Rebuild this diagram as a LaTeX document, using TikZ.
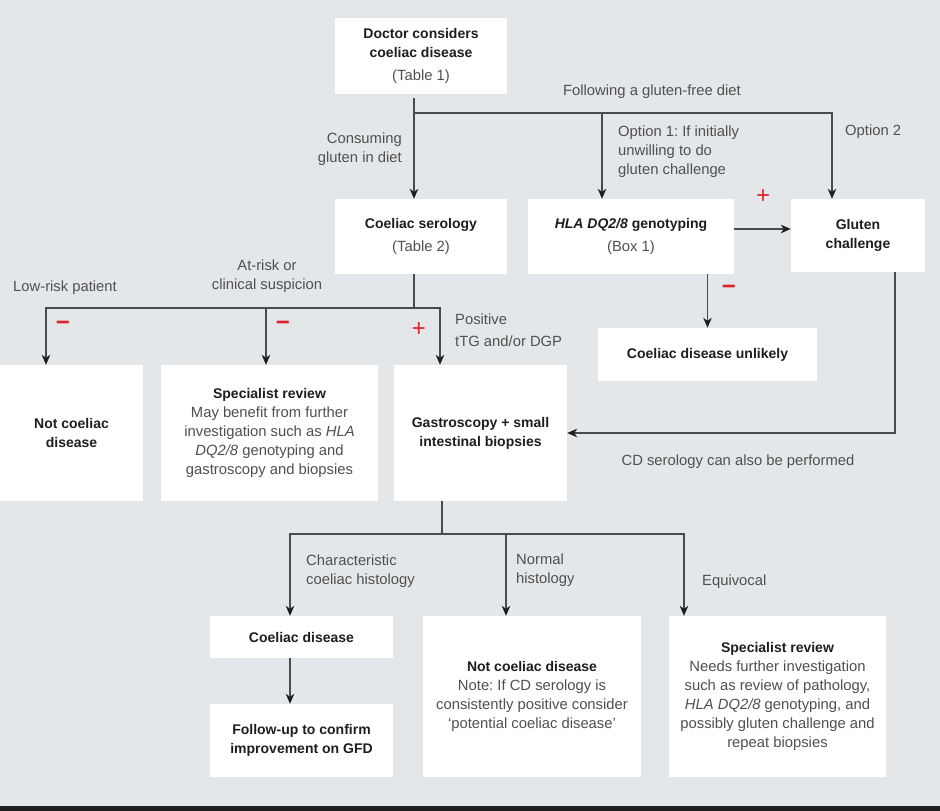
\documentclass[tikz,border=0pt]{standalone}
\usepackage{fontspec}
\setmainfont{Liberation Sans}
\usetikzlibrary{arrows.meta,calc}
\definecolor{bg}{HTML}{E4E7EA}
\definecolor{ink}{HTML}{1E1E1E}
\definecolor{lab}{HTML}{505050}
\definecolor{linec}{HTML}{4A4A4A}
\definecolor{sgn}{HTML}{E0202A}
\definecolor{darkstrip}{HTML}{1F1F1F}
\newcommand{\rg}[1]{{\color{lab}\fontsize{14.8}{19}\selectfont #1}}
\begin{document}
\frenchspacing
\begin{tikzpicture}[x=1pt,y=-1pt,
  box/.style={fill=white, inner sep=0pt, align=center, text=ink, font=\fontsize{14}{19}\selectfont\bfseries},
  lbl/.style={inner sep=0pt, text=lab, font=\fontsize{14.8}{19}\selectfont},
  sign/.style={inner sep=0pt, text=sgn, font=\fontsize{24}{24}\selectfont},
  conn/.style={draw=linec, line width=1.3pt},
  arr/.style={conn, -{Stealth[length=10pt,width=8.5pt,inset=3pt,color=ink]}}]
\useasboundingbox (0,0) rectangle (940,811);
\fill[bg] (0,0) rectangle (940,811);
\fill[darkstrip] (0,806) rectangle (940,811);

% boxes
\node[box, minimum width=172pt, minimum height=76pt] (doc) at (421,56)
  {Doctor considers\\coeliac disease\\[4pt]\mdseries\rg{(Table 1)}};
\node[box, minimum width=172pt, minimum height=75pt] (ser) at (421,236.5)
  {Coeliac serology\\[4pt]\mdseries\rg{(Table 2)}};
\node[box, minimum width=206pt, minimum height=75pt] (hla) at (631,236.5)
  {\textit{HLA DQ2/8} genotyping\\[4pt]\mdseries\rg{(Box 1)}};
\node[box, minimum width=134pt, minimum height=73pt] (gc) at (858,235.5)
  {Gluten\\challenge};
\node[box, minimum width=219pt, minimum height=53pt] (cdu) at (707.5,354.5)
  {Coeliac disease unlikely};
\node[box, minimum width=143pt, minimum height=136pt] (ncd1) at (71.5,433)
  {Not coeliac\\disease};
\node[box, minimum width=217pt, minimum height=136pt] (spec1) at (269.5,433)
  {Specialist review\\\mdseries\rg{May benefit from further}\\\mdseries\rg{investigation such as \textit{HLA}}\\\mdseries\rg{\textit{DQ2/8} genotyping and}\\\mdseries\rg{gastroscopy and biopsies}};
\node[box, minimum width=173pt, minimum height=136pt] (gastro) at (480.5,433)
  {Gastroscopy + small\\intestinal biopsies};
\node[box, minimum width=183pt, minimum height=42pt] (cd) at (301.5,637)
  {Coeliac disease};
\node[box, minimum width=183pt, minimum height=73pt] (fu) at (301.5,740.5)
  {Follow-up to confirm\\improvement on GFD};
\node[box, minimum width=218pt, minimum height=161pt] (ncd2) at (532,696.5)
  {Not coeliac disease\\\mdseries\rg{Note: If CD serology is}\\\mdseries\rg{consistently positive consider}\\\mdseries\rg{‘potential coeliac disease’}};
\node[box, minimum width=217pt, minimum height=161pt] (spec2) at (777.5,696.5)
  {Specialist review\\\mdseries\rg{Needs further investigation}\\\mdseries\rg{such as review of pathology,}\\\mdseries\rg{\textit{HLA DQ2/8} genotyping, and}\\\mdseries\rg{possibly gluten challenge and}\\\mdseries\rg{repeat biopsies}};

% branch coordinates
\coordinate (b1) at (414,113);
\coordinate (b1m) at (602,113);
\coordinate (b1r) at (832,113);
\coordinate (hx) at ([yshift=7.5pt]hla.east);
\coordinate (g2) at (895,433);
\coordinate (s1) at (414,308);
\coordinate (sL) at (46,308);
\coordinate (sM) at (266,308);
\coordinate (sR) at (440,308);
\coordinate (t1) at (442,534);
\coordinate (tL) at (290,534);
\coordinate (tM) at (506,534);
\coordinate (tR) at (684,534);

% connectors
\draw[conn, shorten <=4pt] (doc.south -| b1) -- (b1);
\draw[arr] (b1) -- (ser.north -| b1);
\draw[arr] (b1) -- (b1r) -- (gc.north -| b1r);
\draw[arr] (b1m) -- (hla.north -| b1m);
\draw[arr] (hx) -- (hx -| gc.west);
\draw[arr] (hla.south -| cdu.north) -- (cdu.north);
\draw[arr] (gc.south -| g2) -- (g2) -- (gastro.east);
\draw[conn] (ser.south -| s1) -- (s1);
\draw[arr] (s1) -- (sL) -- (sL |- ncd1.north);
\draw[arr] (s1) -- (sR) -- (sR |- gastro.north);
\draw[arr] (sM) -- (sM |- spec1.north);
\draw[conn] (gastro.south -| t1) -- (t1);
\draw[arr] (t1) -- (tL) -- (tL |- cd.north);
\draw[arr] (t1) -- (tR) -- (tR |- ncd2.north);
\draw[arr] (tM) -- (tM |- ncd2.north);
\draw[arr] (cd.south -| tL) -- (fu.north -| tL);

% labels
\node[lbl] (l1) at (652,92) {Following a gluten-free diet};
\node[lbl, anchor=east, align=right] (l2) at (402,149) {Consuming\\gluten in diet};
\node[lbl, anchor=west, align=left] (l3) at (618,152) {Option 1: If initially\\unwilling to do\\gluten challenge};
\node[lbl, anchor=west] (l4) at (845,132) {Option 2};
\node[lbl, anchor=west] (l5) at (13,288) {Low-risk patient};
\node[lbl, align=center] (l6) at (267,276) {At-risk or\\clinical suspicion};
\node[lbl, anchor=west, align=left, font=\fontsize{14.8}{22}\selectfont] (l7) at (455,330) {Positive\\tTG and/or DGP};
\node[lbl] (l8) at (738,462) {CD serology can also be performed};
\node[lbl, anchor=west, align=left] (l9) at (306,571) {Characteristic\\coeliac histology};
\node[lbl, anchor=west, align=left] (l10) at (516,570) {Normal\\histology};
\node[lbl, anchor=west] (l11) at (702,582) {Equivocal};

% signs
\node[sign] (p1) at (763,197) {+};
\node[sign, font=\fontsize{24}{24}\selectfont\bfseries] (m1) at (729,290) {−};
\node[sign, font=\fontsize{24}{24}\selectfont\bfseries] (m2) at (63,326) {−};
\node[sign, font=\fontsize{24}{24}\selectfont\bfseries] (m3) at (283,326) {−};
\node[sign] (p2) at (419,330) {+};
\end{tikzpicture}
\end{document}
